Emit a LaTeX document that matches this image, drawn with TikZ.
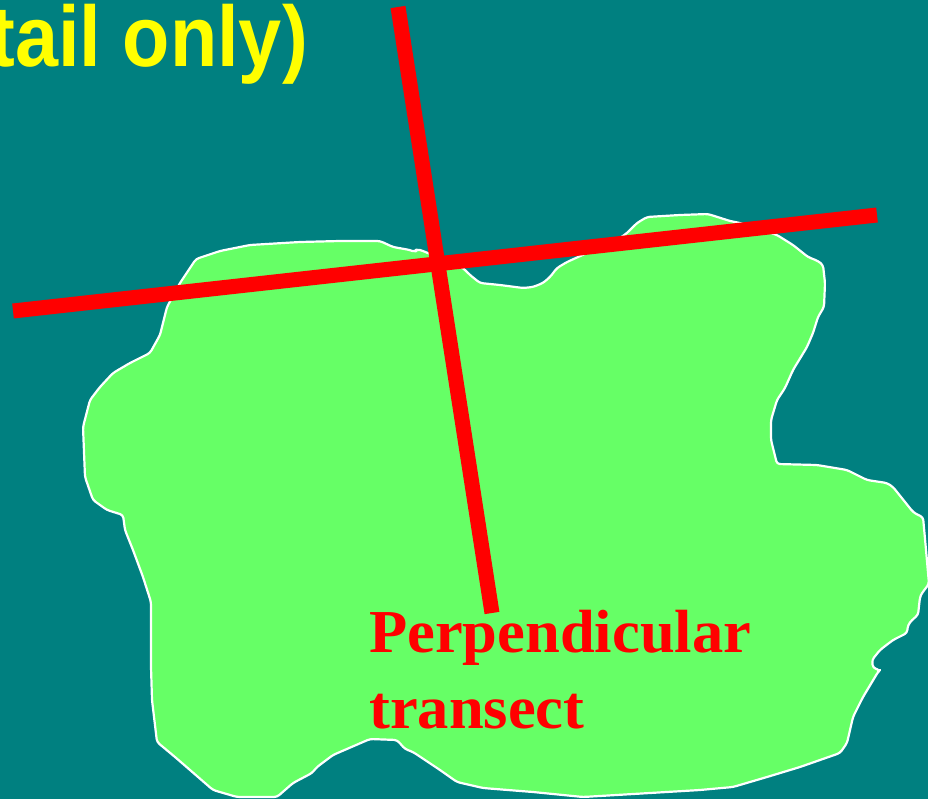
\documentclass[tikz,border=0pt]{standalone}
\usepackage{fontspec}
\newfontfamily\yfont{Liberation Sans}
\newfontfamily\rfont{Liberation Serif}
\definecolor{teal0}{HTML}{008080}
\definecolor{blob}{HTML}{66FF66}
\definecolor{yel}{HTML}{FFFF00}
\definecolor{red0}{HTML}{FF0000}
\tikzset{
  island/.style={fill=blob, draw=white, line width=2.2pt, rounded corners=3pt, line join=round},
  transect/.style={draw=red0, line width=15pt, line cap=butt},
  title/.style={text=yel, font=\yfont\bfseries\fontsize{86}{86}\selectfont, inner sep=0pt, xscale=0.9},
  label/.style={text=red0, font=\rfont\bfseries\fontsize{61}{76}\selectfont, inner sep=0pt, align=left, xscale=1.025},
}
\begin{document}
\begin{tikzpicture}[x=1pt,y=-1pt]
\fill[teal0] (0,0) rectangle (928,799);
\useasboundingbox (0,0) rectangle (928,799);
\path[island] (196,259) -- (220,251) -- (250,245) -- (300,242) -- (340,241) -- (380,241) -- (393,247) -- (410,250) -- (415,252) -- (417,249) -- (423,251) -- (435,256) -- (450,262) -- (463,268) -- (470,275) -- (480,283) -- (500,285) -- (523,288) -- (533,287) -- (543,283) -- (550,277) -- (557,268) -- (567,262) -- (587,253) -- (613,243) -- (627,233) -- (637,223) -- (647,217) -- (680,215) -- (708,214) -- (730,221) -- (740,223) -- (777,235) -- (793,245) -- (803,253) -- (808,257) -- (818,261) -- (823,265) -- (825,283) -- (824,307) -- (818,317) -- (813,333) -- (807,347) -- (793,370) -- (785,388) -- (777,400) -- (771,420) -- (771,440) -- (777,464) -- (817,465) -- (847,470) -- (867,480) -- (887,483) -- (893,487) -- (913,512) -- (918,515) -- (923,517) -- (926,550) -- (929,584) -- (922,593) -- (920,597) -- (918,615) -- (912,620) -- (908,625) -- (907,633) -- (893,640) -- (880,650) -- (872,660) -- (873,668) -- (880,670) -- (878,672) -- (863,697) -- (853,717) -- (847,743) -- (840,753) -- (800,767) -- (767,777) -- (733,787) -- (700,790) -- (650,793) -- (583,797) -- (533,792) -- (483,788) -- (457,782) -- (440,770) -- (413,752) -- (405,749) -- (397,740) -- (370,739) -- (333,755) -- (317,767) -- (312,773) -- (293,783) -- (277,797) -- (237,797) -- (213,790) -- (190,770) -- (175,757) -- (157,742) -- (152,700) -- (151,667) -- (151,602) -- (143,577) -- (133,550) -- (125,530) -- (123,515) -- (107,510) -- (93,500) -- (85,477) -- (83,427) -- (90,400) -- (100,387) -- (113,373) -- (130,363) -- (150,353) -- (160,335) -- (167,307) -- (180,283) -- cycle;
\coordinate (h1) at (13,311);
\coordinate (h2) at (877,215);
\coordinate (v1) at (398,7);
\coordinate (v2) at (492,613);
\draw[transect] (h1) -- (h2);
\draw[transect] (v1) -- (v2);
\node[title, anchor=base east] (ttl) at (308,67) {tail only)};
\node[label, anchor=base west] (lbl) at (369,728) {Perpendicular\\transect};
\end{tikzpicture}
\end{document}
